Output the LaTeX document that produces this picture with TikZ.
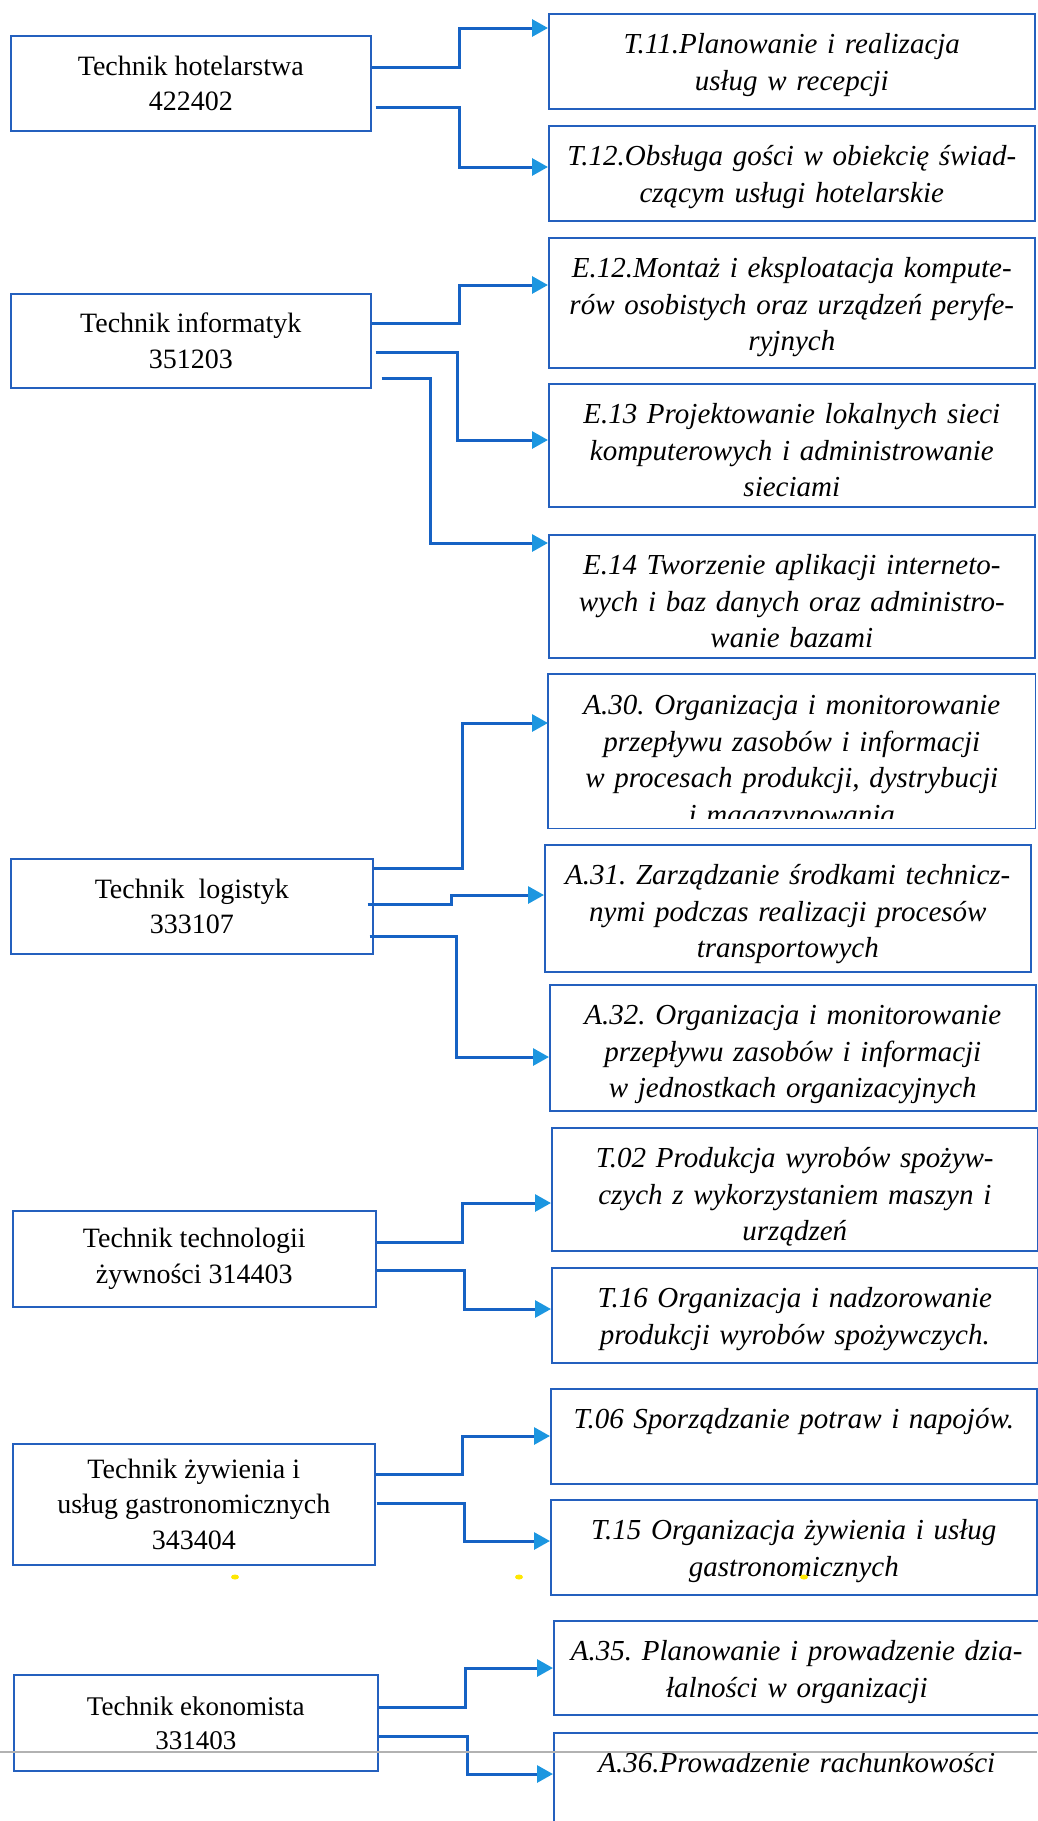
\documentclass[tikz,border=0pt]{standalone}
\usepackage{fontspec}
\setmainfont{Liberation Serif}
\usepackage{tikz}
\usetikzlibrary{arrows.meta}
\frenchspacing
\definecolor{boxblue}{RGB}{36,96,190}
\definecolor{lineblue}{RGB}{22,98,196}
\definecolor{tipblue}{RGB}{28,150,224}
\tikzstyle{lbox} = [draw=boxblue, line width=1.6pt, anchor=north west, align=center, inner sep=0pt, font=\fontsize{28}{35.5}\selectfont]
\tikzstyle{rbox} = [draw=boxblue, line width=1.6pt, anchor=north west, align=center, text width=470pt, inner xsep=8pt, inner ysep=0pt, text height=40pt, font=\fontsize{29}{36.5}\selectfont\itshape]
\tikzstyle{arrow} = [lineblue, line width=3pt, -{Triangle[length=16pt,width=17pt,color=tipblue]}]

\begin{document}
\begin{tikzpicture}[x=1pt,y=1pt,yscale=-1]
\useasboundingbox (0,0) rectangle (1037,1821);

% Left boxes
\node[lbox, minimum width=360pt, minimum height=95pt] (hot) at (10,35) {Technik hotelarstwa\\422402};
\node[lbox, minimum width=360pt, minimum height=94pt] (inf) at (10,293) {Technik informatyk\\351203};
\node[lbox, minimum width=362pt, minimum height=95pt] (log) at (10,858) {Technik~ logistyk\\333107};
\node[lbox, minimum width=363pt, minimum height=96pt] (tech) at (12,1210) {Technik technologii\\żywności 314403};
\node[lbox, minimum width=362pt, minimum height=121pt] (zyw) at (12,1443) {Technik żywienia i\\usług gastronomicznych\\343404};
\node[lbox, minimum width=364pt, minimum height=96pt, font=\fontsize{27}{34}\selectfont] (eko) at (13,1674) {Technik ekonomista\\331403};

% Right boxes
\node[rbox, text depth=55pt] (t11) at (548,13) {T.11.Planowanie i realizacja\\usług w recepcji};
\node[rbox, text depth=55pt] (t12) at (548,125) {T.12.Obsługa gości w obiekcię świad-\\czącym usługi hotelarskie};
\node[rbox, text depth=90pt] (e12) at (548,237) {E.12.Montaż i eksploatacja kompute-\\rów osobistych oraz urządzeń peryfe-\\ryjnych};
\node[rbox, text depth=83pt] (e13) at (548,383) {E.13 Projektowanie lokalnych sieci\\komputerowych i administrowanie\\sieciami};
\node[rbox, text depth=83pt] (e14) at (548,534) {E.14 Tworzenie aplikacji interneto-\\wych i baz danych oraz administro-\\wanie bazami};
\begin{scope}
\clip (540,660) rectangle (1037,818);
\node[rbox, draw=none, text depth=113pt] (a30) at (548,674) {A.30. Organizacja i monitorowanie\\przepływu zasobów i informacji\\w procesach produkcji, dystrybucji\\i magazynowania};
\end{scope}
\draw[boxblue, line width=1.6pt] (a30.north west) rectangle (a30.south east);
\node[rbox, text depth=87pt] (a31) at (544,844) {A.31. Zarządzanie środkami technicz-\\nymi podczas realizacji procesów\\transportowych};
\node[rbox, text depth=86pt] (a32) at (549,984) {A.32. Organizacja i monitorowanie\\przepływu zasobów i informacji\\w jednostkach organizacyjnych};
\node[rbox, text depth=83pt] (t02) at (551,1127) {T.02 Produkcja wyrobów spożyw-\\czych z wykorzystaniem maszyn i\\urządzeń};
\node[rbox, text depth=55pt] (t16) at (551,1267) {T.16 Organizacja i nadzorowanie\\produkcji wyrobów spożywczych.};
\node[rbox, text depth=55pt] (t06) at (550,1388) {T.06 Sporządzanie potraw i napojów.};
\node[rbox, text depth=55pt] (t15) at (550,1499) {T.15 Organizacja żywienia i usług\\gastronomicznych};
\node[rbox, text depth=54pt] (a35) at (553,1620) {A.35. Planowanie i prowadzenie dzia-\\łalności w organizacji};
\node[rbox, text depth=100pt] (a36) at (553,1732) {A.36.Prowadzenie rachunkowości};

% Connectors
\draw[arrow] ([yshift=32pt]hot.north east) -- ++(88,0) |- ([yshift=15pt]t11.north west);
\draw[arrow] ([xshift=4pt,yshift=72pt]hot.north east) -- ++(84,0) |- ([yshift=42pt]t12.north west);
\draw[arrow] ([yshift=30pt]inf.north east) -- ++(88,0) |- ([yshift=48pt]e12.north west);
\draw[arrow] ([xshift=4pt,yshift=59pt]inf.north east) -- ++(82,0) |- ([yshift=57pt]e13.north west);
\draw[arrow] ([xshift=10pt,yshift=85pt]inf.north east) -- ++(49,0) |- ([yshift=9pt]e14.north west);
\draw[arrow] ([yshift=10pt]log.north east) -- ++(89,0) |- ([yshift=49pt]a30.north west);
\draw[arrow] ([xshift=-6pt,yshift=46pt]log.north east) -- ++(84,0) |- ([yshift=51pt]a31.north west);
\draw[arrow] ([xshift=-4pt,yshift=78pt]log.north east) -- ++(87,0) |- ([yshift=73pt]a32.north west);
\draw[arrow] ([yshift=32pt]tech.north east) -- ++(86,0) |- ([yshift=76pt]t02.north west);
\draw[arrow] ([yshift=60pt]tech.north east) -- ++(88,0) |- ([yshift=42pt]t16.north west);
\draw[arrow] ([yshift=31pt]zyw.north east) -- ++(87,0) |- ([yshift=48pt]t06.north west);
\draw[arrow] ([xshift=1pt,yshift=60pt]zyw.north east) -- ++(88,0) |- ([yshift=42pt]t15.north west);
\draw[arrow] ([yshift=33pt]eko.north east) -- ++(87,0) |- ([yshift=48pt]a35.north west);
\draw[arrow] ([yshift=62pt]eko.north east) -- ++(89,0) |- ([yshift=42pt]a36.north west);

% Scan marks
\fill[yellow!90!orange] (235,1577) ellipse (4 and 2.5);
\fill[yellow!90!orange] (519,1577) ellipse (4 and 2.5);
\fill[yellow!90!orange] (804,1577) ellipse (4 and 2.5);
\draw[gray!60, line width=1.2pt] (0,1752) -- (1037,1752);

\end{tikzpicture}
\end{document}
